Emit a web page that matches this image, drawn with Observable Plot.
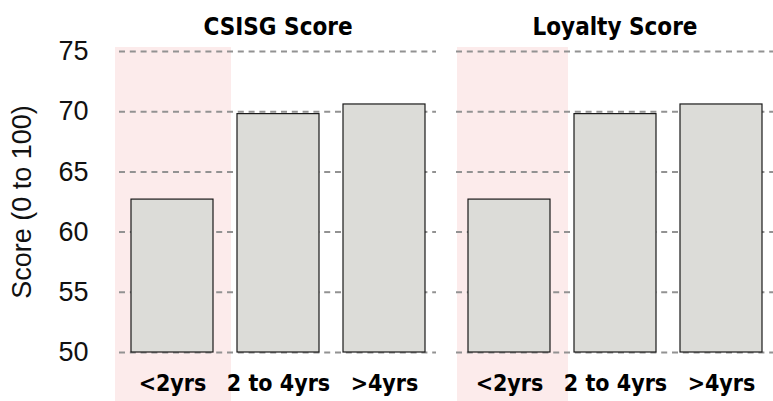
<!DOCTYPE html>
<html>
<head>
<meta charset="utf-8">
<script src="https://cdn.jsdelivr.net/npm/d3@7"></script>
<script src="https://cdn.jsdelivr.net/npm/@observablehq/plot@0.6"></script>
<style>
  html, body { margin: 0; padding: 0; background: #fff; }
  #chart { width: 773px; height: 401px; }
</style>
</head>
<body>
<div id="chart"></div>
<script>
// ---- data ----
const metrics = ["CSISG Score", "Loyalty Score"];
const tenures = ["<2yrs", "2 to 4yrs", ">4yrs"];
const csisgValues = [62.7, 69.8, 70.6];
const loyaltyValues = [62.7, 69.8, 70.6];
const yTicks = [50, 55, 60, 65, 70, 75];
const yDomain = [50, 75];
const highlighted = "<2yrs";
const yLabel = "Score (0 to 100)";

// ---- table built from the arrays ----
const rows = [
  ...tenures.map((t, i) => ({metric: metrics[0], tenure: t, value: csisgValues[i]})),
  ...tenures.map((t, i) => ({metric: metrics[1], tenure: t, value: loyaltyValues[i]}))
];
const highlightRows = metrics.map(m => ({metric: m, tenure: highlighted}));

const condBold = "'DejaVu Sans Condensed', 'DejaVu Sans', sans-serif";
const regular = "'Liberation Sans', Arial, sans-serif";

const chart = Plot.plot({
  width: 773,
  height: 401,
  marginLeft: 119,
  marginRight: 0,
  marginTop: 51,
  marginBottom: 49,
  style: {fontFamily: regular, background: "#fff", color: "#000"},
  fx: {domain: metrics, paddingInner: 0.06, paddingOuter: 0},
  x: {domain: tenures, paddingInner: 0.23, paddingOuter: 0.1},
  y: {domain: yDomain},
  marks: [
    // pink highlight band behind the first category
    Plot.barY(highlightRows.slice(0, 1), {
      fx: "metric", x: "tenure", y1: yDomain[0], y2: yDomain[1],
      fill: "#fcebeb", insetTop: -4, insetBottom: -49, insetLeft: -16, insetRight: -18
    }),
    Plot.barY(highlightRows.slice(1), {
      fx: "metric", x: "tenure", y1: yDomain[0], y2: yDomain[1],
      fill: "#fcebeb", insetTop: -4, insetBottom: -49, insetLeft: -11, insetRight: -18
    }),
    Plot.gridY(yTicks, {stroke: "#929292", strokeOpacity: 1, strokeWidth: 2, strokeDasharray: "6,4.8"}),
    Plot.barY(rows, {
      fx: "metric", x: "tenure", y1: yDomain[0], y2: "value",
      fill: "#dcdcd8", stroke: "#1a1a1a", strokeWidth: 1.2
    }),
    Plot.axisY(yTicks, {
      tickSize: 0, tickPadding: 31, fontSize: 27, fontFamily: regular, fill: "#111",
      label: yLabel, labelAnchor: "center", labelOffset: 108, labelArrow: "none"
    }),
    Plot.axisX({
      tickSize: 0, tickPadding: 22, fontSize: 23, fontWeight: "bold",
      fontFamily: condBold, fontStretch: "condensed", fill: "#000", label: null
    }),
    Plot.axisFx({
      anchor: "top", tickSize: 0, tickPadding: 17, fontSize: 24, fontWeight: "bold",
      fontFamily: condBold, fontStretch: "condensed", fill: "#000", label: null
    })
  ]
});
document.getElementById("chart").appendChild(chart);
</script>
</body>
</html>
